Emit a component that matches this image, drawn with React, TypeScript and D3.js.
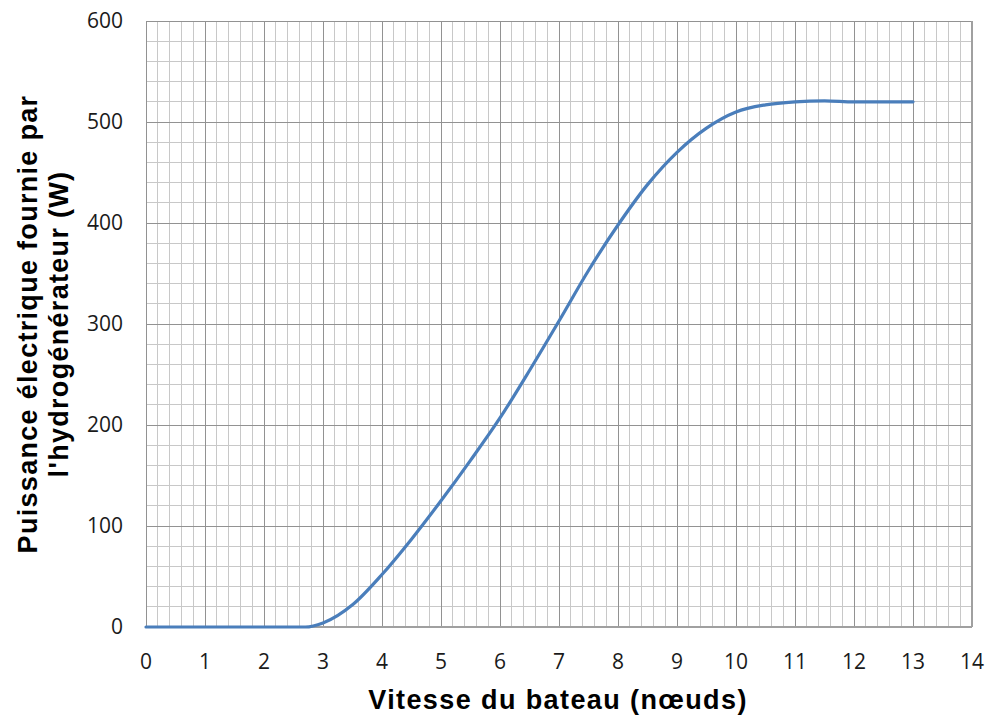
import React from 'react';
import * as d3 from 'd3';

// vitesse du bateau (noeuds) et puissance fournie (W)
const vitesse = [0, 1, 2, 2.7, 3, 3.5, 4, 4.5, 5, 5.5, 6, 6.5, 7, 7.5, 8, 8.5, 9, 9.5, 10, 10.5, 11, 11.5, 12, 12.5, 13];
const puissance = [0, 0, 0, 0, 4, 22, 52, 87, 125, 165, 207, 254, 303, 353, 398, 438, 470, 494, 510, 517, 520, 521, 520, 520, 520];

const xTicks = d3.range(0, 15, 1);
const yTicks = d3.range(0, 700, 100);

const xTitle = 'Vitesse du bateau (nœuds)';
const yTitle = ['Puissance électrique fournie par', "l'hydrogénérateur (W)"];

const width = 987;
const height = 717;
const margin = { top: 21, right: 15, bottom: 90, left: 146 };

export default function App() {
  const x = d3.scaleLinear().domain([0, 14]).range([margin.left, width - margin.right]);
  const y = d3.scaleLinear().domain([0, 600]).range([height - margin.bottom, margin.top]);

  const data = vitesse.map((v, i) => ({ v, p: puissance[i] }));
  const line = d3.line<{ v: number; p: number }>()
    .x(d => x(d.v))
    .y(d => y(d.p))
    .curve(d3.curveMonotoneX);

  const minorX = d3.range(0, 14.001, 0.2);
  const minorY = d3.range(0, 600.001, 20);
  const tickFont = "'Open Sans', sans-serif";
  const titleFont = "Arial, 'Liberation Sans', sans-serif";

  return (
    <svg width={width} height={height} style={{ position: 'absolute', left: 0, top: 0, background: '#fff' }}>
      <g shapeRendering="crispEdges">
        {minorX.map((v, i) => (
          <line key={'mx' + i} x1={x(v)} x2={x(v)} y1={y(0)} y2={y(600)} stroke="#c8c8c8" strokeWidth={1} />
        ))}
        {minorY.map((v, i) => (
          <line key={'my' + i} x1={x(0)} x2={x(14)} y1={y(v)} y2={y(v)} stroke="#c8c8c8" strokeWidth={1} />
        ))}
        {xTicks.map(v => (
          <line key={'Mx' + v} x1={x(v)} x2={x(v)} y1={y(0)} y2={y(600)} stroke="#929292" strokeWidth={1} />
        ))}
        {yTicks.map(v => (
          <line key={'My' + v} x1={x(0)} x2={x(14)} y1={y(v)} y2={y(v)} stroke="#929292" strokeWidth={1} />
        ))}
        <line x1={x(14)} x2={x(14)} y1={y(0)} y2={y(600)} stroke="#a0a0a0" strokeWidth={1.5} />
        <line x1={x(0)} x2={x(14)} y1={y(0)} y2={y(0)} stroke="#a0a0a0" strokeWidth={1.5} />
      </g>

      <path d={line(data) || ''} fill="none" stroke="#4a7ebb" strokeWidth={3.2} strokeLinecap="round" />

      {xTicks.map(v => (
        <text key={'tx' + v} x={x(v)} y={y(0) + 42} textAnchor="middle" fontFamily={tickFont} fontSize={21} fill="#1a1a1a">
          {v}
        </text>
      ))}
      {yTicks.map(v => (
        <text key={'ty' + v} x={x(0) - 23} y={y(v)} dy="0.35em" textAnchor="end" fontFamily={tickFont} fontSize={21} fill="#1a1a1a">
          {v}
        </text>
      ))}

      <text x={558} y={709} textAnchor="middle" fontFamily={titleFont} fontWeight="bold" fontSize={27} letterSpacing={1.4} fill="#000">
        {xTitle}
      </text>
      <g transform={`translate(${37},${(y(0) + y(600)) / 2}) rotate(-90)`}>
        {yTitle.map((t, i) => (
          <text key={t} x={0} y={i * 31} textAnchor="middle" fontFamily={titleFont} fontWeight="bold" fontSize={27} letterSpacing={1.3} fill="#000">
            {t}
          </text>
        ))}
      </g>
    </svg>
  );
}
